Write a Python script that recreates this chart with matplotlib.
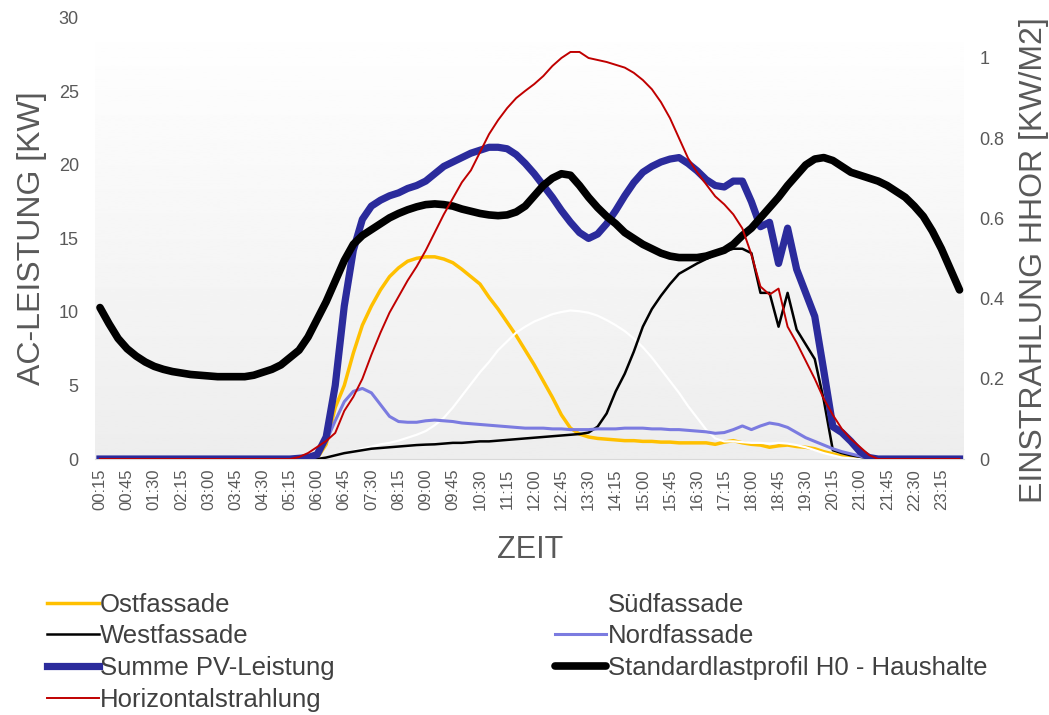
import numpy as np
import matplotlib
matplotlib.use("Agg")
import matplotlib.pyplot as plt
from matplotlib.lines import Line2D

plt.rcParams['font.family'] = ['Liberation Sans', 'DejaVu Sans']

# 15-minute values over one day (96 points)
tick_labels = ["00:15", "00:45", "01:30", "02:15", "03:00", "03:45", "04:30", "05:15",
               "06:00", "06:45", "07:30", "08:15", "09:00", "09:45", "10:30", "11:15",
               "12:00", "12:45", "13:30", "14:15", "15:00", "15:45", "16:30", "17:15",
               "18:00", "18:45", "19:30", "20:15", "21:00", "21:45", "22:30", "23:15"]

ost = [0] * 24 + [
    0.05, 1.0, 3.5, 5.0, 7.2, 9.1, 10.4, 11.5, 12.4, 13.0, 13.45, 13.65,
    13.75, 13.75, 13.6, 13.35, 12.9, 12.4, 11.9, 11.0, 10.2, 9.3, 8.4, 7.4,
    6.4, 5.3, 4.2, 3.0, 2.1, 1.7, 1.5, 1.4, 1.35, 1.3, 1.25, 1.25,
    1.2, 1.2, 1.15, 1.15, 1.1, 1.1, 1.1, 1.1, 1.0, 1.15, 1.25, 1.1,
    1.0, 0.95, 0.8, 0.9, 0.95, 0.85, 0.8, 0.7, 0.5, 0.35, 0.2, 0.1,
    0.03] + [0] * 11

sued = [0] * 24 + [
    0, 0.1, 0.25, 0.4, 0.55, 0.7, 0.85, 1.0, 1.1, 1.25, 1.45, 1.65,
    1.9, 2.3, 2.8, 3.5, 4.3, 5.1, 5.9, 6.6, 7.4, 8.0, 8.6, 9.0,
    9.35, 9.6, 9.85, 10.0, 10.1, 10.05, 9.95, 9.75, 9.45, 9.1, 8.7, 8.2,
    7.6, 6.9, 6.1, 5.3, 4.5, 3.6, 2.8, 2.0, 1.4, 1.2, 1.2, 1.15,
    1.1, 1.1, 1.05, 1.1, 1.05, 0.95, 0.8, 0.6, 0.4, 0.25, 0.1, 0.05,
    0] + [0] * 11

west = [0] * 24 + [
    0, 0.1, 0.25, 0.4, 0.5, 0.6, 0.7, 0.75, 0.8, 0.85, 0.9, 0.95,
    0.98, 1.0, 1.05, 1.1, 1.1, 1.15, 1.2, 1.2, 1.25, 1.3, 1.35, 1.4,
    1.45, 1.5, 1.55, 1.6, 1.65, 1.7, 1.8, 2.2, 3.1, 4.6, 5.8, 7.3,
    9.0, 10.2, 11.1, 11.9, 12.6, 12.95, 13.3, 13.6, 13.9, 14.1, 14.3, 14.3,
    14.0, 11.3, 11.3, 9.0, 11.3, 8.8, 7.8, 6.8, 4.0, 0.6, 0.4, 0.25,
    0.15, 0.05] + [0] * 10

nord = [0] * 23 + [
    0.05, 0.3, 1.2, 2.6, 3.9, 4.6, 4.8, 4.5, 3.7, 2.9, 2.55, 2.5,
    2.5, 2.6, 2.65, 2.6, 2.55, 2.45, 2.4, 2.35, 2.3, 2.25, 2.2, 2.15,
    2.1, 2.1, 2.1, 2.05, 2.05, 2.0, 2.0, 2.0, 2.05, 2.05, 2.05, 2.1,
    2.1, 2.1, 2.05, 2.05, 2.0, 2.0, 1.95, 1.9, 1.85, 1.75, 1.8, 2.0,
    2.25, 2.0, 2.25, 2.45, 2.35, 2.15, 1.8, 1.45, 1.2, 0.95, 0.7, 0.5,
    0.35, 0.2, 0.05] + [0] * 10

summe = [0] * 22 + [
    0.05, 0.1, 0.3, 1.5, 5.0, 10.4, 14.2, 16.3, 17.2, 17.6, 17.9, 18.1,
    18.4, 18.6, 18.9, 19.4, 19.9, 20.2, 20.5, 20.8, 21.0, 21.2, 21.2, 21.1,
    20.7, 20.1, 19.4, 18.6, 17.8, 16.9, 16.1, 15.4, 15.0, 15.3, 16.0, 16.9,
    17.9, 18.8, 19.5, 19.9, 20.2, 20.4, 20.5, 20.1, 19.6, 19.0, 18.6, 18.5,
    18.9, 18.9, 17.5, 15.8, 16.1, 13.3, 15.7, 12.9, 11.3, 9.7, 6.0, 2.2,
    1.8, 1.2, 0.5, 0.1] + [0] * 10

h0 = [10.3, 9.2, 8.2, 7.5, 7.0, 6.6, 6.3, 6.1, 5.95, 5.85, 5.75, 5.7,
      5.65, 5.6, 5.6, 5.6, 5.6, 5.7, 5.9, 6.1, 6.4, 6.9, 7.4, 8.3,
      9.5, 10.7, 12.1, 13.5, 14.6, 15.2, 15.6, 16.0, 16.4, 16.7, 16.95, 17.15,
      17.3, 17.35, 17.3, 17.2, 17.0, 16.85, 16.7, 16.6, 16.55, 16.6, 16.8, 17.2,
      17.9, 18.6, 19.1, 19.4, 19.3, 18.6, 17.8, 17.1, 16.5, 16.0, 15.4, 15.0,
      14.6, 14.3, 14.0, 13.8, 13.7, 13.7, 13.7, 13.8, 14.0, 14.2, 14.6, 15.2,
      15.7, 16.4, 17.1, 17.8, 18.6, 19.3, 20.0, 20.4, 20.5, 20.3, 19.9, 19.5,
      19.3, 19.1, 18.9, 18.6, 18.2, 17.8, 17.2, 16.5, 15.5, 14.3, 12.9, 11.5]

# global horizontal irradiance, kW/m2 (right axis)
horiz = [0] * 22 + [
    0.005, 0.015, 0.03, 0.045, 0.065, 0.12, 0.155, 0.2, 0.26, 0.315, 0.365, 0.405,
    0.445, 0.48, 0.52, 0.565, 0.61, 0.65, 0.69, 0.72, 0.765, 0.81, 0.845, 0.875,
    0.9, 0.918, 0.935, 0.955, 0.98, 1.0, 1.015, 1.015, 1.0, 0.995, 0.99, 0.983,
    0.976, 0.963, 0.945, 0.922, 0.89, 0.85, 0.8, 0.75, 0.715, 0.685, 0.655, 0.635,
    0.61, 0.575, 0.51, 0.43, 0.41, 0.425, 0.33, 0.29, 0.245, 0.2, 0.15, 0.11,
    0.075, 0.05, 0.03, 0.01] + [0] * 10

x = np.arange(96)

fig = plt.figure(figsize=(10.49, 7.15), dpi=100)
ax = fig.add_axes([0.091, 0.358, 0.828, 0.617])

# soft vertical gradient in the plot area
grad = np.linspace(0.93, 1.0, 256).reshape(-1, 1)
ax.imshow(grad, extent=[0, 1, 0, 1], transform=ax.transAxes, cmap='gray',
          vmin=0, vmax=1, aspect='auto', origin='lower', zorder=0)

l_ost, = ax.plot(x, ost, color='#FFC000', lw=2.5, label='Ostfassade', zorder=2)
l_sued, = ax.plot(x, sued, color='white', lw=1.6, label='Südfassade', zorder=3)
l_west, = ax.plot(x, west, color='black', lw=1.8, label='Westfassade', zorder=4)
l_nord, = ax.plot(x, nord, color='#7B7BE0', lw=2.2, label='Nordfassade', zorder=5)
l_sum, = ax.plot(x, summe, color='#2B2B9C', lw=5.2, label='Summe PV-Leistung', zorder=6)
l_h0, = ax.plot(x, h0, color='black', lw=5.5, label='Standardlastprofil H0 - Haushalte',
                zorder=7, solid_capstyle='round')

ax.set_xlim(-0.5, 95.5)
ax.set_ylim(0, 30)
ax.set_yticks(range(0, 31, 5))
ax.set_xticks(np.arange(0, 96, 3))
ax.set_xticklabels(tick_labels, rotation=90)
ax.tick_params(axis='x', length=0, pad=7, labelsize=12, labelcolor='#595959')
ax.tick_params(axis='y', length=0, pad=12, labelsize=13, labelcolor='#595959')
for s in ['top', 'left', 'right']:
    ax.spines[s].set_visible(False)
ax.spines['bottom'].set_color('#D9D9D9')

ax.set_ylabel('AC-LEISTUNG [KW]', fontsize=23, color='#595959')
ax.yaxis.set_label_coords(-0.056, 0.5)
ax.set_xlabel('ZEIT', fontsize=22, color='#595959')
ax.xaxis.set_label_coords(0.5, -0.172)

ax2 = ax.twinx()
l_hor, = ax2.plot(x, horiz, color='#C00000', lw=1.4, label='Horizontalstrahlung', zorder=8)
ax2.set_ylim(0, 1.1)
ax2.set_yticks([0, 0.2, 0.4, 0.6, 0.8, 1.0])
ax2.set_yticklabels(['0', '0.2', '0.4', '0.6', '0.8', '1'])
ax2.tick_params(axis='y', length=0, pad=11, labelsize=13, labelcolor='#595959')
for s in ['top', 'left', 'right', 'bottom']:
    ax2.spines[s].set_visible(False)
ax2.set_ylabel('EINSTRAHLUNG HHOR [KW/M2]', fontsize=23, color='#595959')
ax2.yaxis.set_label_coords(1.063, 0.45)

# legend in two blocks, no frame
leg_kw = dict(frameon=False, fontsize=18.5, handlelength=2.0, handletextpad=0.05,
              labelspacing=0.3, borderaxespad=0, borderpad=0, labelcolor='#404040')
leg1 = fig.legend(handles=[l_ost, l_west, l_sum, l_hor], loc='upper left',
                  bbox_to_anchor=(0.045, 0.171), **leg_kw)
sued_handle = Line2D([], [], color='white', lw=1.6)
leg2 = fig.legend(handles=[sued_handle, l_nord, l_h0],
                  labels=['Südfassade', 'Nordfassade', 'Standardlastprofil H0 - Haushalte'],
                  loc='upper left', bbox_to_anchor=(0.529, 0.171), **leg_kw)

fig.savefig('out.png', dpi=100)
